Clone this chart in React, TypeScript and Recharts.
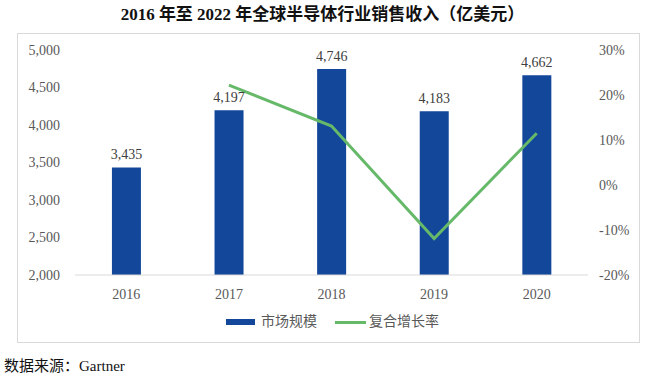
import React from 'react';
import { ComposedChart, Bar, Line, XAxis, YAxis, LabelList } from 'recharts';

const years = ['2016', '2017', '2018', '2019', '2020'];
const marketSize = [3435, 4197, 4746, 4183, 4662];
const growthRate = [null, 0.222, 0.131, -0.119, 0.115];
const leftTicks = [2000, 2500, 3000, 3500, 4000, 4500, 5000];
const rightTicks = [-0.2, -0.1, 0, 0.1, 0.2, 0.3];

const data = years.map((y, i) => ({ year: y, size: marketSize[i], rate: growthRate[i] }));

const serif = '"Liberation Serif", "Noto Sans CJK SC", serif';
const textColor = '#595959';

export default function App() {
  return (
    <div style={{ position: 'absolute', left: 0, top: 0, width: 645, height: 379, background: '#fff', fontFamily: serif }}>
      <div style={{ position: 'absolute', left: 0, top: 4, width: 645, textAlign: 'center', fontSize: 17, fontWeight: 'bold', color: '#111', lineHeight: '22px' }}>
        2016 年至 2022 年全球半导体行业销售收入（亿美元）
      </div>
      <div style={{ position: 'absolute', left: 17, top: 33, width: 623, height: 310, border: '1px solid #d9d9d9', boxSizing: 'border-box' }} />
      <div style={{ position: 'absolute', left: 0, top: 0 }}>
        <ComposedChart width={645} height={379} data={data} margin={{ top: 50, right: 0, left: 0, bottom: 74 }} barCategoryGap="36%">
          <XAxis dataKey="year" height={30} tickLine={false} axisLine={{ stroke: '#d9d9d9' }} tickMargin={8}
            tick={{ fill: textColor, fontSize: 14, fontFamily: serif }} />
          <YAxis yAxisId="left" width={75} domain={[2000, 5000]} ticks={leftTicks} axisLine={false} tickLine={false} tickSize={0} tickMargin={15}
            tickFormatter={(v: number) => v.toLocaleString('en-US')} tick={{ fill: textColor, fontSize: 14, fontFamily: serif }} />
          <YAxis yAxisId="right" orientation="right" width={57} domain={[-0.2, 0.3]} ticks={rightTicks} axisLine={false} tickLine={false} tickSize={0} tickMargin={11}
            tickFormatter={(v: number) => `${Math.round(v * 100)}%`} tick={{ fill: textColor, fontSize: 14, fontFamily: serif, textAnchor: 'start' }} />
          <Bar yAxisId="left" dataKey="size" fill="#12479a" isAnimationActive={false}>
            <LabelList dataKey="size" position="top" offset={8} formatter={(v: number) => v.toLocaleString('en-US')}
              style={{ fill: '#404040', fontSize: 14, fontFamily: serif }} />
          </Bar>
          <Line yAxisId="right" dataKey="rate" stroke="#67b96a" strokeWidth={3} dot={false} isAnimationActive={false} connectNulls={false} />
        </ComposedChart>
      </div>
      <div style={{ position: 'absolute', left: 226, top: 312, display: 'flex', alignItems: 'center', fontSize: 14, color: textColor, lineHeight: '20px' }}>
        <span style={{ display: 'inline-block', width: 29, height: 6, background: '#12479a', marginRight: 6 }} />
        <span>市场规模</span>
        <span style={{ display: 'inline-block', width: 31, height: 3, background: '#67b96a', marginLeft: 18, marginRight: 3 }} />
        <span>复合增长率</span>
      </div>
      <div style={{ position: 'absolute', left: 4, top: 356, fontSize: 15, color: '#111', lineHeight: '20px' }}>
        数据来源：Gartner
      </div>
    </div>
  );
}
